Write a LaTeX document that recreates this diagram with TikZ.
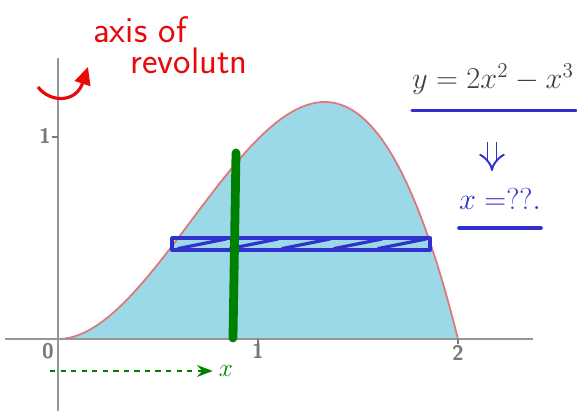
\documentclass[tikz,border=0pt]{standalone}
\usepackage{amsmath,amssymb}
\usepackage{tikz}
\usepackage{xcolor}
\usetikzlibrary{arrows.meta,calc,positioning}
\definecolor{areablue}{RGB}{155,216,232}
\definecolor{curvered}{RGB}{222,120,120}
\definecolor{axisgray}{RGB}{150,150,150}
\definecolor{penred}{RGB}{232,10,10}
\definecolor{penblue}{RGB}{48,48,205}
\definecolor{pengreen}{RGB}{0,128,0}

\begin{document}
\begin{tikzpicture}[x=4cm,y=4cm,>=Stealth]
  \useasboundingbox (-0.29,-0.36) rectangle (2.595,1.695);

  % 曲线下方区域
  \fill[areablue] (0,0) -- plot[domain=0:2,samples=80] (\x,{2*\x*\x-\x*\x*\x}) -- cycle;
  \draw[curvered,line width=1pt] plot[domain=0:2,samples=80] (\x,{2*\x*\x-\x*\x*\x});

  % 坐标轴
  \draw[axisgray,line width=1.7pt] (-0.265,0) -- (2.375,0);
  \draw[axisgray,line width=1.7pt] (0,-0.36) -- (0,1.405);
  \draw[axisgray!80!black,line width=0.6pt] (1,0) -- (1,-0.025);
  \draw[axisgray!80!black,line width=0.6pt] (2,0) -- (2,-0.025);
  \draw[axisgray!80!black,line width=0.6pt] (0,1.01) -- (-0.03,1.01);
  \node[text=axisgray!80!black,font=\sffamily\bfseries\large] (lab0) at (-0.05,-0.06) {0};
  \node[text=axisgray!80!black,font=\sffamily\bfseries\large] (lab1) at (1,-0.06) {1};
  \node[text=axisgray!80!black,font=\sffamily\bfseries\large] (lab2) at (2,-0.07) {2};
  \node[text=axisgray!80!black,font=\sffamily\bfseries\large] (laby) at (-0.065,1.015) {1};

  % 水平薄片（蓝色）
  \draw[penblue,line width=2.2pt,line join=round] (0.57,0.445) rectangle (1.86,0.505);
  \foreach \s in {0.6,0.86,1.12,1.38,1.6}
    \draw[penblue,line width=1.8pt,line cap=round] (\s,0.452) -- (\s+0.24,0.5);

  % 竖直薄片（绿色）
  \coordinate (gtop) at (0.89,0.93);
  \coordinate (gbot) at (0.875,0.005);
  \draw[pengreen,line width=5pt,line cap=round] (gtop) -- (gbot);

  % 旋转轴标注
  \node[text=penred,font=\sffamily\fontsize{21}{24}\selectfont,inner sep=0pt] (axistxt) at (0.41,1.545) {axis of};
  \node[text=penred,font=\sffamily\fontsize{21}{24}\selectfont,inner sep=0pt] (revtxt) at (0.655,1.39) {revolutn};
  \coordinate (rstart) at (-0.1,1.26);
  \coordinate (rend) at (0.15,1.36);
  \draw[penred,line width=1.8pt,-{Triangle[length=3.5mm,width=3.2mm]}] (rstart) .. controls (-0.04,1.18) and (0.09,1.18) .. (rend);

  % 方程与 x=??
  \node[text=black!75,font=\fontsize{18}{22}\selectfont] (eqn) at (2.175,1.3) {$y = 2x^2 - x^3$};
  \draw[penblue,line width=2pt,line cap=round] ($(eqn.south west)+(0.03,-0.05)$) -- ($(eqn.south east)+(-0.02,-0.05)$);
  \node[text=penblue,font=\LARGE] (xq) at (2.21,0.70) {$x=??.$};
  \draw[penblue,line width=2pt,line cap=round] ($(xq.south west)+(0.03,-0.06)$) -- ($(xq.south east)+(-0.03,-0.06)$);
  \coordinate (dtop) at (2.17,0.985);
  \coordinate (dbot) at (2.17,0.84);
  \draw[penblue,line width=1.1pt,double,double distance=4pt,-{Implies[length=3mm]}] (dtop) -- (dbot);

  % 绿色 x 方向
  \coordinate (xstart) at (-0.04,-0.16);
  \node[text=pengreen,font=\Large] (xlab) at (0.84,-0.16) {$x$};
  \draw[pengreen,line width=1.3pt,dashed,->] (xstart) -- (xlab);
\end{tikzpicture}
\end{document}
